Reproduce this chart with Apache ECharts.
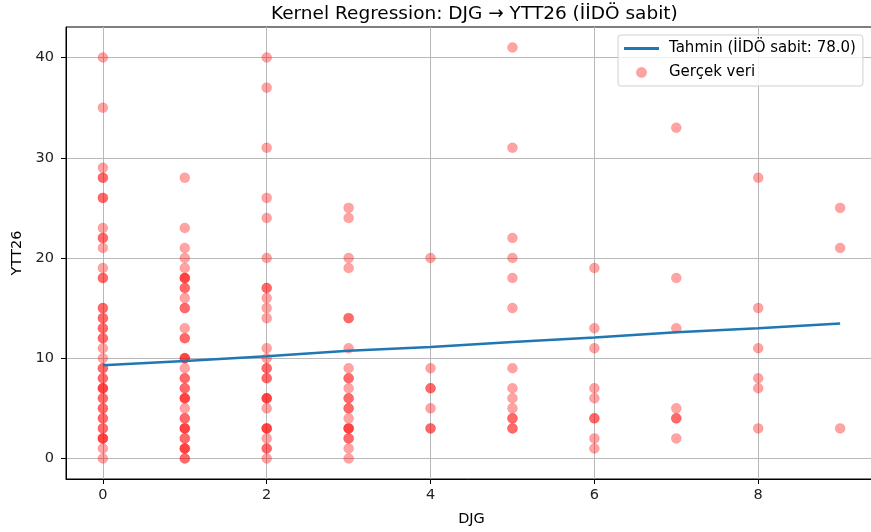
<!DOCTYPE html>
<html>
<head>
<meta charset="utf-8">
<script src="https://cdn.jsdelivr.net/npm/echarts@6/dist/echarts.min.js"></script>
<style>
  html, body { margin: 0; padding: 0; background: #fff; }
  #chart { width: 871px; height: 532px; }
</style>
</head>
<body>
<div id="chart"></div>
<script>
  // DJG levels and the YTT26 values seen at each level (repeats = overlapping points)
  const djgLevels = [0, 1, 2, 3, 4, 5, 6, 7, 8, 9];
  const yttDjg0 = [0, 1, 2, 2, 2, 3, 3, 4, 4, 5, 5, 6, 6, 7, 7, 7, 8, 8, 9, 9, 10, 11, 12, 12, 13, 13, 14, 14, 15, 15, 18, 18, 19, 21, 22, 22, 23, 26, 26, 28, 28, 29, 35, 40];
  const yttDjg1 = [0, 0, 1, 1, 1, 2, 2, 3, 3, 3, 4, 4, 5, 6, 6, 6, 7, 7, 8, 8, 9, 10, 10, 10, 12, 12, 13, 15, 15, 16, 17, 17, 18, 18, 18, 19, 20, 21, 23, 28];
  const yttDjg2 = [0, 1, 1, 2, 3, 3, 3, 5, 6, 6, 6, 8, 8, 9, 9, 10, 11, 14, 15, 16, 17, 17, 20, 24, 26, 31, 37, 40];
  const yttDjg3 = [0, 1, 2, 2, 3, 3, 3, 4, 5, 5, 6, 6, 7, 8, 8, 9, 11, 14, 14, 19, 20, 24, 25];
  const yttDjg4 = [3, 3, 5, 7, 7, 9, 20];
  const yttDjg5 = [3, 3, 4, 4, 5, 6, 7, 9, 15, 18, 20, 22, 31, 41];
  const yttDjg6 = [1, 2, 4, 4, 6, 7, 11, 13, 19];
  const yttDjg7 = [2, 4, 4, 5, 13, 18, 33];
  const yttDjg8 = [3, 7, 8, 11, 15, 28];
  const yttDjg9 = [3, 21, 25];
  // kernel regression prediction (İİDÖ fixed at 78.0)
  const predicted = [9.3, 9.73, 10.2, 10.75, 11.13, 11.63, 12.07, 12.6, 13.0, 13.47];
  const xTicks = [0, 2, 4, 6, 8];
  const yTicks = [0, 10, 20, 30, 40];

  const byLevel = [yttDjg0, yttDjg1, yttDjg2, yttDjg3, yttDjg4, yttDjg5, yttDjg6, yttDjg7, yttDjg8, yttDjg9];
  const scatterData = [];
  byLevel.forEach((vals, i) => {
    vals.forEach(v => scatterData.push([djgLevels[i], v]));
  });
  const lineData = djgLevels.map((d, i) => [d, predicted[i]]);

  const font = 'DejaVu Sans';
  const lineName = 'Tahmin (\u0130\u0130D\u00d6 sabit: 78.0)';
  const dotName = 'Ger\u00e7ek veri';
  // thin bar inside a 35x10 box, used as the legend line sample
  const lineIcon = 'path://M0,0L0.01,0L0.01,0.01Z M0,3.6L35,3.6L35,6.4L0,6.4Z M35,10L34.99,10L34.99,9.99Z';
  const chart = echarts.init(document.getElementById('chart'));
  chart.setOption({
    animation: false,
    textStyle: { fontFamily: font },
    title: {
      text: 'Kernel Regression: DJG \u2192 YTT26 (\u0130\u0130D\u00d6 sabit)',
      left: 266,
      top: 0,
      textStyle: { fontFamily: font, fontSize: 18.5, fontWeight: 'normal', color: '#000' }
    },
    legend: {
      orient: 'vertical',
      left: 618,
      top: 35,
      padding: [6, 7, 6, 6],
      itemWidth: 35,
      itemHeight: 10,
      itemGap: 9,
      backgroundColor: 'rgba(255,255,255,0.8)',
      borderColor: '#d0d0d0',
      borderWidth: 1,
      borderRadius: 3,
      textStyle: { fontFamily: font, fontSize: 15, color: '#000', padding: [0, 0, 0, 5] },
      data: [
        { name: lineName, icon: lineIcon, itemStyle: { color: '#1f77b4' } },
        { name: dotName }
      ]
    },
    grid: {
      show: true, borderColor: '#000', borderWidth: 1,
      left: 66, width: 811, top: 27, bottom: 53,
      outerBoundsMode: 'none'
    },
    xAxis: {
      type: 'value',
      min: -0.45,
      max: 9.45,
      name: 'DJG',
      nameLocation: 'middle',
      nameGap: 33,
      nameTextStyle: { fontFamily: font, fontSize: 14.5, color: '#000' },
      axisLine: { onZero: false, lineStyle: { color: '#000', width: 1 } },
      axisTick: { show: true, inside: false, length: 5, customValues: xTicks, lineStyle: { color: '#000' } },
      axisLabel: { customValues: xTicks, margin: 9, fontSize: 14.5, color: '#222', fontFamily: font },
      splitLine: { show: true, lineStyle: { color: '#b8b8b8', width: 1 } }
    },
    yAxis: {
      type: 'value',
      min: -2.05,
      max: 43.05,
      name: 'YTT26',
      nameLocation: 'middle',
      nameGap: 41,
      nameTextStyle: { fontFamily: font, fontSize: 14.5, color: '#000' },
      axisLine: { show: true, onZero: false, lineStyle: { color: '#000', width: 1 } },
      axisTick: { show: true, inside: false, length: 5, customValues: yTicks, lineStyle: { color: '#000' } },
      axisLabel: { customValues: yTicks, margin: 12, fontSize: 14.5, color: '#222', fontFamily: font },
      splitLine: { show: true, lineStyle: { color: '#b8b8b8', width: 1 } }
    },
    series: [
      {
        name: lineName,
        type: 'line',
        data: lineData,
        symbol: 'none',
        showSymbol: false,
        z: 3,
        lineStyle: { color: '#1f77b4', width: 2.5 },
        itemStyle: { color: '#1f77b4' }
      },
      {
        name: dotName,
        type: 'scatter',
        data: scatterData,
        symbolSize: 10,
        z: 2,
        itemStyle: { color: 'rgba(255,0,0,0.45)', borderColor: 'rgba(255,0,0,0.15)', borderWidth: 1 }
      }
    ]
  });
</script>
</body>
</html>
